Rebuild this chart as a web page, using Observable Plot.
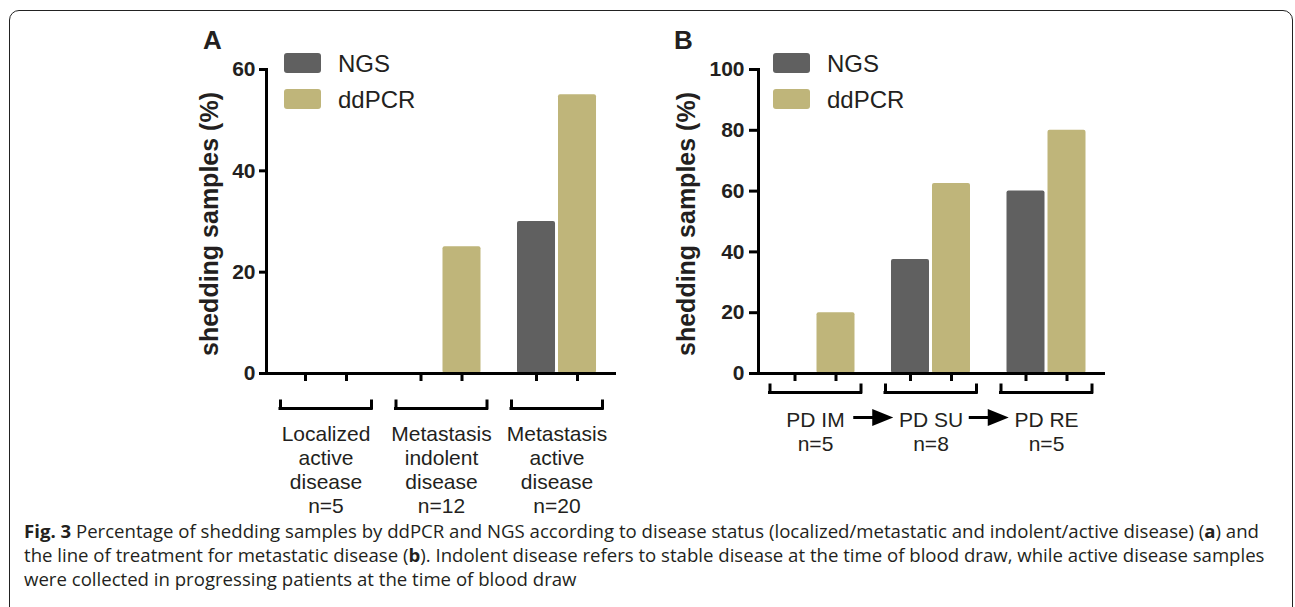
<!DOCTYPE html>
<html><head><meta charset="utf-8">
<script src="https://cdn.jsdelivr.net/npm/d3@7"></script>
<script src="https://cdn.jsdelivr.net/npm/@observablehq/plot@0.6"></script>
<style>
html,body{margin:0;padding:0;background:#fff;}
body{width:1295px;height:607px;position:relative;overflow:hidden;font-family:"Liberation Sans",Arial,sans-serif;color:#231f20;}
#frame{position:absolute;left:9px;top:10px;width:1284px;height:660px;border:1.5px solid #222;border-radius:10px;box-sizing:border-box;}
.panel{position:absolute;top:0;}
.letter{position:absolute;font-weight:bold;font-size:26px;line-height:26px;}
.sw{position:absolute;width:37px;height:20px;border-radius:3px;}
.lt{position:absolute;font-size:24px;line-height:24px;white-space:nowrap;}
#caption{position:absolute;left:24px;top:519px;width:1265px;font-family:"Open Sans",sans-serif;font-size:18.6px;line-height:24px;white-space:nowrap;color:#231f20;}
</style>
</head><body>
<div id="frame"></div>
<div id="panelA" class="panel" style="left:0px"></div>
<div id="panelB" class="panel" style="left:640px"></div>
<div class="letter" style="left:203px;top:27px">A</div>
<div class="letter" style="left:674px;top:27px">B</div>
<div id="legendA"></div>
<div id="legendB"></div>
<div id="caption"><b>Fig. 3</b> Percentage of shedding samples by ddPCR and NGS according to disease status (localized/metastatic and indolent/active disease) (<b>a</b>) and<br>the line of treatment for metastatic disease (<b>b</b>). Indolent disease refers to stable disease at the time of blood draw, while active disease samples<br>were collected in progressing patients at the time of blood draw</div>
<script>
// ---- data ----
const series = ["NGS", "ddPCR"];
const colors = ["#606060", "#bfb57a"];
const groupsA = ["Localized active disease", "Metastasis indolent disease", "Metastasis active disease"];
const labelsA = ["Localized\nactive\ndisease", "Metastasis\nindolent\ndisease", "Metastasis\nactive\ndisease"];
const countsA = ["n=5", "n=12", "n=20"];
const ngsA = [0, 0, 30];
const ddpcrA = [0, 25, 55];
const ticksA = [0, 20, 40, 60];
const groupsB = ["PD IM", "PD SU", "PD RE"];
const labelsB = ["PD IM", "PD SU", "PD RE"];
const countsB = ["n=5", "n=8", "n=5"];
const ngsB = [0, 37.5, 60];
const ddpcrB = [20, 62.5, 80];
const ticksB = [0, 20, 40, 60, 80, 100];
const yLabel = "shedding samples (%)";

const arrowSymbol = {
  draw(ctx) {
    ctx.moveTo(-20, -1.5); ctx.lineTo(-1, -1.5); ctx.lineTo(-1, -8.5);
    ctx.lineTo(20, 0); ctx.lineTo(-1, 8.5); ctx.lineTo(-1, 1.5);
    ctx.lineTo(-20, 1.5); ctx.closePath();
  }
};

function panel(o) {
  const rows = o.groups.map((g, i) => ({group: g, NGS: o.ngs[i], ddPCR: o.ddpcr[i], label: o.labels[i] + "\n" + o.counts[i]}));
  const half = 39.5 + 6;
  const marks = [
    Plot.barY(rows, {x: "group", y: "NGS", fill: colors[0], insetRight: 41, rx: 2}),
    Plot.barY(rows, {x: "group", y: "ddPCR", fill: colors[1], insetLeft: 41, rx: 2}),
    Plot.ruleY([0], {stroke: "#000", strokeWidth: 3, insetRight: o.axisExtend}),
    Plot.frame({anchor: "left", stroke: "#000", strokeWidth: 3}),
    Plot.axisY({ticks: o.ticks, tickSize: o.tickSize, tickPadding: o.tickPadding, fontSize: 21, fontWeight: "bold", strokeWidth: 3, label: null, stroke: "#000"}),
    // x ticks under each bar
    Plot.ruleX(rows, {x: "group", y1: 0, y2: 0, dx: -20.5, insetBottom: -8, stroke: "#000", strokeWidth: 3}),
    Plot.ruleX(rows, {x: "group", y1: 0, y2: 0, dx: 20.5, insetBottom: -8, stroke: "#000", strokeWidth: 3}),
    // brackets
    Plot.tickY(rows, {x: "group", y: 0, dy: o.bracketDy, insetLeft: -6, insetRight: -6, stroke: "#000", strokeWidth: 3, strokeLinecap: "square"}),
    Plot.ruleX(rows, {x: "group", y1: 0, y2: 0, dx: -half, dy: o.bracketDy, insetTop: -7, stroke: "#000", strokeWidth: 3, strokeLinecap: "square"}),
    Plot.ruleX(rows, {x: "group", y1: 0, y2: 0, dx: half, dy: o.bracketDy, insetTop: -7, stroke: "#000", strokeWidth: 3, strokeLinecap: "square"}),
    // category labels
    Plot.text(rows, {x: "group", y: 0, text: "label", dy: o.labelDy, lineAnchor: "top", fontSize: 21, lineHeight: 24 / 21, fill: "#231f20"}),
    // y label
    Plot.text([yLabel], {frameAnchor: "left", text: d => d, rotate: -90, dx: o.yLabelDx, dy: 2.5, textAnchor: "middle", lineAnchor: "middle", fontSize: 25, fontWeight: "bold", fill: "#231f20"})
  ];
  if (o.arrows) {
    marks.push(Plot.dot(o.groups.slice(0, -1), {x: d => d, y: 0, dx: 57.75, dy: o.arrowDy, symbol: arrowSymbol, r: 5, fill: "#000", stroke: "none"}));
  }
  return Plot.plot({
    width: o.width, height: 520,
    marginTop: 69, marginBottom: 147, marginLeft: o.marginLeft, marginRight: o.marginRight,
    x: {type: "band", domain: o.groups, paddingInner: 0.316, paddingOuter: o.paddingOuter, align: 0.5, axis: null, round: false},
    y: {domain: [0, o.yMax]},
    style: {fontFamily: "'Liberation Sans', Arial, sans-serif", color: "#231f20", background: "transparent", overflow: "visible"},
    marks
  });
}

document.getElementById("panelA").appendChild(panel({
  groups: groupsA, labels: labelsA, counts: countsA, ngs: ngsA, ddpcr: ddpcrA, ticks: ticksA, yMax: 60,
  width: 640, marginLeft: 266, marginRight: 24, paddingOuter: 0.173, axisExtend: 0,
  tickSize: 7, tickPadding: 4, bracketDy: 35, labelDy: 50, yLabelDx: -57
}));
document.getElementById("panelB").appendChild(panel({
  groups: groupsB, labels: labelsB, counts: countsB, ngs: ngsB, ddpcr: ddpcrB, ticks: ticksB, yMax: 100,
  width: 655, marginLeft: 118, marginRight: 192, paddingOuter: 0.1515, axisExtend: -2,
  tickSize: 9, tickPadding: 5, bracketDy: 19, labelDy: 36, yLabelDx: -72, arrows: true, arrowDy: 44
}));

function legend(id, left, textLeft) {
  const el = document.getElementById(id);
  series.forEach((s, i) => {
    const sw = document.createElement("div");
    sw.className = "sw";
    sw.style.left = left + "px"; sw.style.top = (53 + i * 36) + "px"; sw.style.background = colors[i];
    el.appendChild(sw);
    const t = document.createElement("div");
    t.className = "lt"; t.textContent = s;
    t.style.left = textLeft + "px"; t.style.top = (52 + i * 36) + "px";
    el.appendChild(t);
  });
}
legend("legendA", 284, 338);
legend("legendB", 773, 827);
</script>
</body></html>
